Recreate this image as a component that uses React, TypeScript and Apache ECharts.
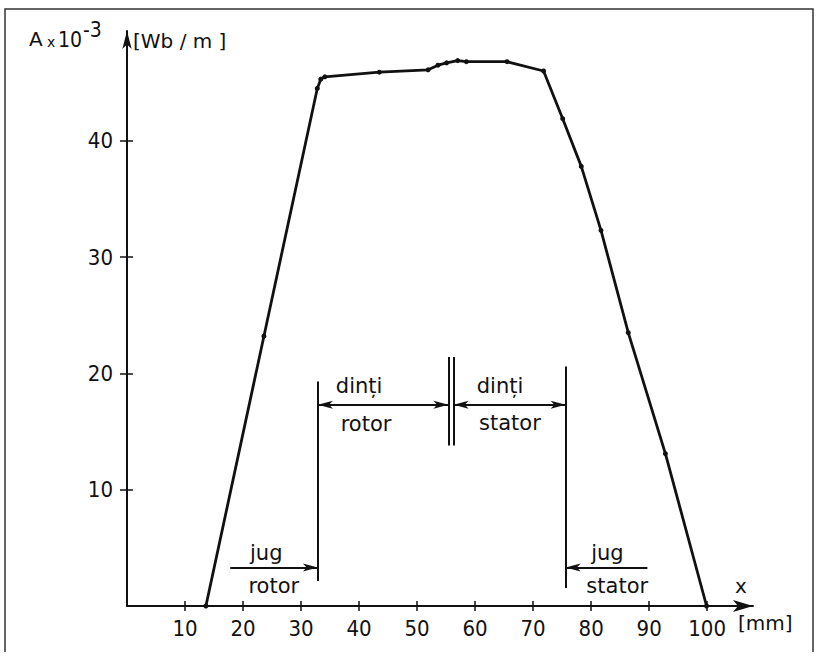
import React, { useEffect, useRef } from "react";
import * as echarts from "echarts";

// Measured flux curve A(x) (A x 10^-3 Wb/m) against x (mm)
const xValues = [13.6, 23.6, 32.8, 33.4, 34.1, 43.5, 51.9, 53.6, 55.1, 57.0, 58.5, 65.5, 71.8, 75.1, 78.3, 81.7, 86.4, 92.8, 99.9];
const yValues = [0, 23.2, 44.5, 45.3, 45.5, 45.9, 46.1, 46.5, 46.7, 46.9, 46.8, 46.8, 46.0, 41.9, 37.8, 32.3, 23.5, 13.1, 0];

const xTicks = [10, 20, 30, 40, 50, 60, 70, 80, 90, 100];
const yTicks = [10, 20, 30, 40];

// Region boundaries (mm)
const rotorYokeEnd = 32.9;
const airGap = [55.4, 56.3];
const statorToothEnd = 75.6;
const yokeArrowStart = [17.8, 89.7];

// Region markers: [x, yTop, yBottom]
const boundaryLines = [
  [rotorYokeEnd, 19.3, 2.15],
  [airGap[0], 21.4, 13.8],
  [airGap[1], 21.4, 13.8],
  [statorToothEnd, 20.6, 1.55],
];

// Region label texts: [x, y, text]
const regionLabels: [number, number, string][] = [
  [40.0, 18.9, "dinți"],
  [41.2, 15.65, "rotor"],
  [64.3, 18.9, "dinți"],
  [66.0, 15.7, "stator"],
  [24.0, 4.6, "jug"],
  [25.3, 1.75, "rotor"],
  [82.8, 4.6, "jug"],
  [84.5, 1.75, "stator"],
];

const toothArrowY = 17.3;
const yokeArrowY = 3.3;

const INK = "#111";
const NARROW = "'Liberation Sans Narrow','DejaVu Sans Condensed','Liberation Sans',sans-serif";
const SANS = "'DejaVu Sans','Liberation Sans',sans-serif";

export default function App() {
  const ref = useRef<HTMLDivElement>(null);

  useEffect(() => {
    if (!ref.current) return;
    const chart = echarts.init(ref.current, undefined, { renderer: "svg" });

    const lineData = xValues.map((x, i) => [x, yValues[i]]);

    const markData: any[] = boundaryLines.map(([x, y1, y2]) => [
      { coord: [x, y1], symbol: "none" },
      { coord: [x, y2], symbol: "none" },
    ]);
    markData.push([
      { coord: [rotorYokeEnd, toothArrowY], symbol: "arrow" },
      { coord: [airGap[0], toothArrowY], symbol: "arrow" },
    ]);
    markData.push([
      { coord: [airGap[1], toothArrowY], symbol: "arrow" },
      { coord: [statorToothEnd, toothArrowY], symbol: "arrow" },
    ]);
    markData.push([
      { coord: [yokeArrowStart[0], yokeArrowY], symbol: "none" },
      { coord: [rotorYokeEnd, yokeArrowY], symbol: "arrow" },
    ]);
    markData.push([
      { coord: [yokeArrowStart[1], yokeArrowY], symbol: "none" },
      { coord: [statorToothEnd, yokeArrowY], symbol: "arrow" },
    ]);

    const xMax = 107.9;
    const yMax = 49.44;

    const axisLineStyle = { color: INK, width: 2 };

    chart.setOption({
      animation: false,
      backgroundColor: "#fff",
      grid: { left: 127, right: 66, top: 31, bottom: 64, containLabel: false },
      xAxis: [
        {
          type: "value",
          min: 0,
          max: xMax,
          position: "bottom",
          axisLine: {
            show: true,
            onZero: false,
            symbol: ["none", "arrow"],
            symbolSize: [9, 20],
            lineStyle: axisLineStyle,
          },
          axisTick: { show: true, customValues: xTicks, length: 5, lineStyle: { color: INK, width: 1.5 } },
          axisLabel: {
            show: true,
            customValues: xTicks,
            margin: 11,
            fontSize: 22,
            color: INK,
            fontFamily: NARROW,
          },
          splitLine: { show: false },
        },
        {
          type: "value",
          min: 0,
          max: xMax,
          position: "bottom",
          axisLine: { show: false },
          axisTick: { show: true, inside: true, customValues: xTicks, length: 5, lineStyle: { color: INK, width: 1.5 } },
          axisLabel: { show: false },
          splitLine: { show: false },
        },
      ],
      yAxis: [
        {
          type: "value",
          min: 0,
          max: yMax,
          position: "left",
          axisLine: {
            show: true,
            onZero: false,
            symbol: ["none", "arrow"],
            symbolSize: [7, 18],
            lineStyle: axisLineStyle,
          },
          axisTick: { show: true, customValues: yTicks, length: 7, lineStyle: { color: INK, width: 1.5 } },
          axisLabel: {
            show: true,
            customValues: yTicks,
            margin: 14,
            fontSize: 22,
            color: INK,
            fontFamily: NARROW,
          },
          splitLine: { show: false },
        },
        {
          type: "value",
          min: 0,
          max: yMax,
          position: "left",
          axisLine: { show: false },
          axisTick: { show: true, inside: true, customValues: yTicks, length: 6, lineStyle: { color: INK, width: 1.5 } },
          axisLabel: { show: false },
          splitLine: { show: false },
        },
      ],
      series: [
        {
          type: "line",
          data: lineData,
          symbol: "circle",
          symbolSize: 5,
          lineStyle: { color: INK, width: 2.8 },
          itemStyle: { color: INK },
          silent: true,
          z: 5,
        },
        {
          type: "scatter",
          data: regionLabels,
          symbol: "circle",
          symbolSize: 1,
          itemStyle: { color: "rgba(0,0,0,0)", opacity: 1 },
          label: {
            show: true,
            position: "inside",
            formatter: (p: any) => p.value[2],
            fontSize: 21,
            color: INK,
            opacity: 1,
            fontFamily: SANS,
          },
          silent: true,
          markLine: {
            silent: true,
            animation: false,
            symbolSize: [6, 15],
            label: { show: false },
            lineStyle: { color: INK, width: 2, type: "solid", opacity: 1 },
            emphasis: { disabled: true },
            data: markData,
          },
        },
      ],
      graphic: [
        {
          type: "polyline",
          shape: { points: [[5, 652], [5, 9], [813, 9], [813, 652]] },
          style: { stroke: "#333", lineWidth: 1.5, fill: "none" },
          silent: true,
        },
        { type: "text", left: 29, top: 29, style: { text: "A", fontSize: 20, fill: INK, fontFamily: SANS } },
        { type: "text", left: 47, top: 35, style: { text: "x", fontSize: 14, fill: INK, fontFamily: SANS } },
        { type: "text", left: 58, top: 29, style: { text: "10", fontSize: 21, fill: INK, fontFamily: NARROW } },
        { type: "text", left: 83, top: 19, style: { text: "-3", fontSize: 21, fill: INK, fontFamily: NARROW } },
        { type: "text", left: 133, top: 31, style: { text: "[Wb / m ]", fontSize: 20, fill: INK, fontFamily: SANS } },
        { type: "text", left: 735, top: 576, style: { text: "x", fontSize: 20, fill: INK, fontFamily: SANS } },
        { type: "text", left: 738, top: 613, style: { text: "[mm]", fontSize: 20, fill: INK, fontFamily: SANS } },
      ],
    });

    return () => chart.dispose();
  }, []);

  return (
    <div
      ref={ref}
      style={{ position: "absolute", left: 0, top: 0, width: 819, height: 670, background: "#fff" }}
    />
  );
}
